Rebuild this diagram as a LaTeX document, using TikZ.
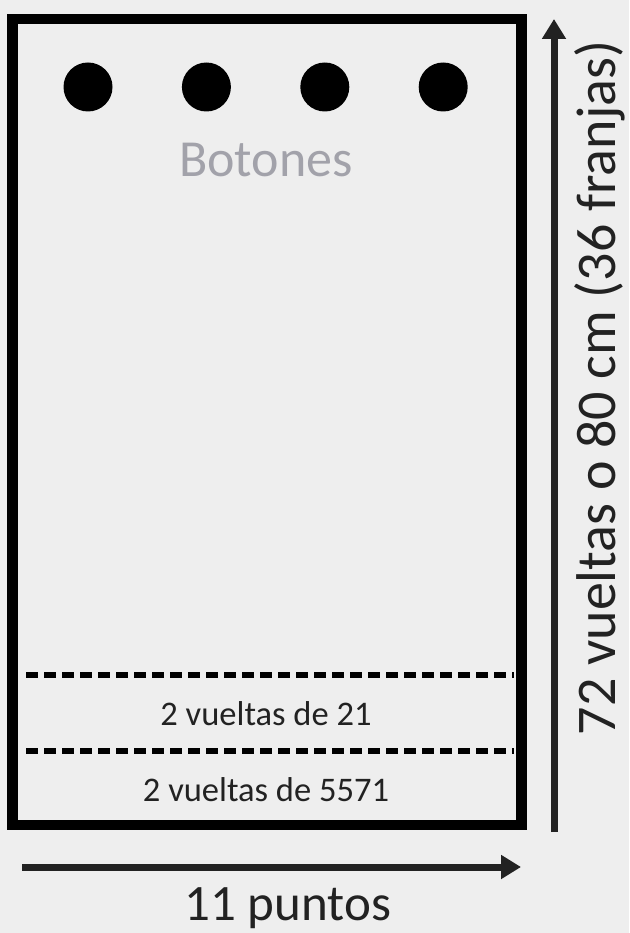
\documentclass[tikz,border=0pt]{standalone}
\usepackage{fontspec}
\setmainfont{Carlito}
\usetikzlibrary{positioning}
\usetikzlibrary{arrows.meta}

\definecolor{bggrey}{HTML}{EEEEEE}
\definecolor{softgrey}{HTML}{A2A2AA}
\definecolor{inkgrey}{HTML}{222222}

\begin{document}
\begin{tikzpicture}[x=1pt, y=-1pt,
    button/.style={circle, fill=black, minimum size=49pt, inner sep=0pt},
    rowline/.style={line width=5.5pt, dash pattern=on 12pt off 6pt},
    rowtext/.style={inner sep=0pt, text=inkgrey, font=\fontsize{34.5}{40}\selectfont},
    dimarrow/.style={-{Triangle[length=20pt,width=23pt]}, line width=7pt, draw=inkgrey},
    dimtext/.style={inner sep=0pt, text=inkgrey, font=\fontsize{56}{64}\selectfont}]
        \fill[bggrey] (0,0) rectangle (629,933);
        \useasboundingbox (0,0) rectangle (629,933);

        \node[draw, line width=10.5pt, minimum width=509pt, minimum height=806pt, inner sep=0pt] (panel) at (267,422) {};

        % buttons along the top
        \node[button] (b1) at (88,87) {};
        \node[button, right=69pt of b1] (b2) {};
        \node[button, right=69pt of b2] (b3) {};
        \node[button, right=69pt of b3] (b4) {};
        \node[inner sep=0pt, text=softgrey, font=\fontsize{52}{60}\selectfont] (btn) at (266,160) {Botones};

        % rows at the bottom
        \coordinate (d1w) at (26,675);
        \coordinate (d1e) at (514,675);
        \coordinate (d2w) at (26,751);
        \coordinate (d2e) at (514,751);
        \draw[rowline] (d1w) -- (d1e);
        \draw[rowline] (d2w) -- (d2e);
        \node[rowtext] (r1) at (266,714) {2 vueltas de 21};
        \node[rowtext] (r2) at (266,790) {2 vueltas de 5571};

        % sizes
        \coordinate (ws) at (22,867);
        \coordinate (we) at (521,867);
        \draw[dimarrow] (ws) -- (we);
        \node[dimtext, font=\fontsize{51}{60}\selectfont] (wlbl) at (288,908) {11 puntos};

        \coordinate (hs) at (554,832);
        \coordinate (he) at (554,19);
        \draw[dimarrow] (hs) -- (he);
        \node[dimtext, rotate=90] (hlbl) at (600,388) {72 vueltas o 80 cm (36 franjas)};
\end{tikzpicture}
\end{document}
